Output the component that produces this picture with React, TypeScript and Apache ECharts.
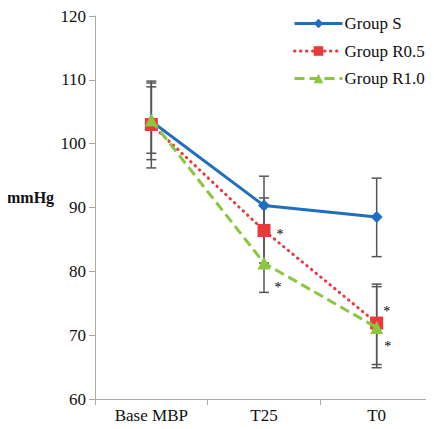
import React, { useEffect, useRef } from "react";
import * as echarts from "echarts";

const categories = ["Base MBP", "T25", "T0"];
const groupS = [103.5, 90.3, 88.5];
const groupR05 = [103.0, 86.4, 71.9];
const groupR10 = [103.7, 81.3, 71.2];
// error bar extents [low, high]
const errS = [[97.5, 109.5], [85.7, 94.9], [82.3, 94.6]];
const errR05 = [[96.2, 109.8], [81.3, 91.5], [65.4, 78.0]];
const errR10 = [[98.5, 108.9], [76.7, 85.9], [64.9, 77.6]];
// asterisk flags per point
const starR05 = [false, true, true];
const starR10 = [false, true, true];
const yTicks = { min: 60, max: 120, interval: 10 };

const FONT = "Liberation Serif";

export default function App() {
  const ref = useRef<HTMLDivElement>(null);
  useEffect(() => {
    if (!ref.current) return;
    const chart = echarts.init(ref.current, null, { renderer: "svg" });
    const errData: any[] = [];
    [errS, errR05, errR10].forEach((arr) =>
      arr.forEach((e, i) => errData.push([i, e[0], e[1]]))
    );
    const starOffR05 = [[0, 0], [16, 4], [10, -12]];
    const starOffR10 = [[0, 0], [14, 24], [11, 19]];
    const mk = (vals: number[], flags: boolean[], offs: number[][]) =>
      vals.map((v, i) =>
        flags[i]
          ? {
              value: v,
              label: {
                show: true,
                formatter: "*",
                position: "inside",
                offset: offs[i],
                color: "#000",
                fontSize: 14,
                fontFamily: FONT,
              },
            }
          : v
      );
    chart.setOption({
      animation: false,
      backgroundColor: "#fff",
      textStyle: { fontFamily: FONT },
      grid: { left: 95, right: 1, top: 16, bottom: 30 },
      legend: {
        data: ["Group S", "Group R0.5", "Group R1.0"],
        orient: "vertical",
        left: 288,
        top: 10,
        itemWidth: 48,
        itemHeight: 12,
        itemGap: 10.5,
        lineStyle: { width: 3 },
        textStyle: { fontFamily: FONT, fontSize: 17, color: "#111", padding: [0, 0, 0, -3] },
      },
      xAxis: {
        type: "category",
        data: categories,
        boundaryGap: true,
        axisLine: { lineStyle: { color: "#aaa" } },
        axisTick: { show: true, length: 6, lineStyle: { color: "#aaa" } },
        axisLabel: { fontFamily: FONT, fontSize: 17, color: "#111", margin: 8 },
      },
      yAxis: {
        type: "value",
        min: yTicks.min,
        max: yTicks.max,
        interval: yTicks.interval,
        splitLine: { show: false },
        axisLine: { show: true, lineStyle: { color: "#aaa" } },
        axisTick: { show: true, length: 6, lineStyle: { color: "#aaa" } },
        axisLabel: { fontFamily: FONT, fontSize: 17, color: "#111", margin: 9 },
      },
      graphic: [
        {
          type: "text",
          left: 7,
          top: 189,
          style: { text: "mmHg", fontFamily: FONT, fontSize: 16, fontWeight: "bold", fill: "#111" },
        },
      ],
      series: [
        {
          type: "custom",
          name: "err",
          z: 1,
          data: errData,
          renderItem: (params: any, api: any) => {
            const x = api.value(0);
            const lo = api.coord([x, api.value(1)]);
            const hi = api.coord([x, api.value(2)]);
            const w = 5;
            const st = { stroke: "#555", lineWidth: 1.5 };
            return {
              type: "group",
              children: [
                { type: "line", shape: { x1: lo[0], y1: lo[1], x2: hi[0], y2: hi[1] }, style: st },
                { type: "line", shape: { x1: lo[0] - w, y1: lo[1], x2: lo[0] + w, y2: lo[1] }, style: st },
                { type: "line", shape: { x1: hi[0] - w, y1: hi[1], x2: hi[0] + w, y2: hi[1] }, style: st },
              ],
            };
          },
        },
        {
          name: "Group S",
          type: "line",
          z: 2,
          data: groupS,
          symbol: "diamond",
          symbolSize: 12,
          itemStyle: { color: "#1f6fc1" },
          lineStyle: { color: "#1f6fc1", width: 3 },
        },
        {
          name: "Group R0.5",
          type: "line",
          z: 3,
          data: mk(groupR05, starR05, starOffR05),
          symbol: "rect",
          symbolSize: 13,
          itemStyle: { color: "#e8393b" },
          lineStyle: { color: "#e8393b", width: 3, type: [0.5, 5.5], cap: "round" },
        },
        {
          name: "Group R1.0",
          type: "line",
          z: 4,
          data: mk(groupR10, starR10, starOffR10),
          symbol: "triangle",
          symbolSize: 13,
          itemStyle: { color: "#8cc63f" },
          lineStyle: { color: "#8cc63f", width: 3, type: [10, 5] },
        },
      ],
    });
    return () => chart.dispose();
  }, []);
  return <div ref={ref} style={{ width: 434, height: 429, margin: -8 }} />;
}
